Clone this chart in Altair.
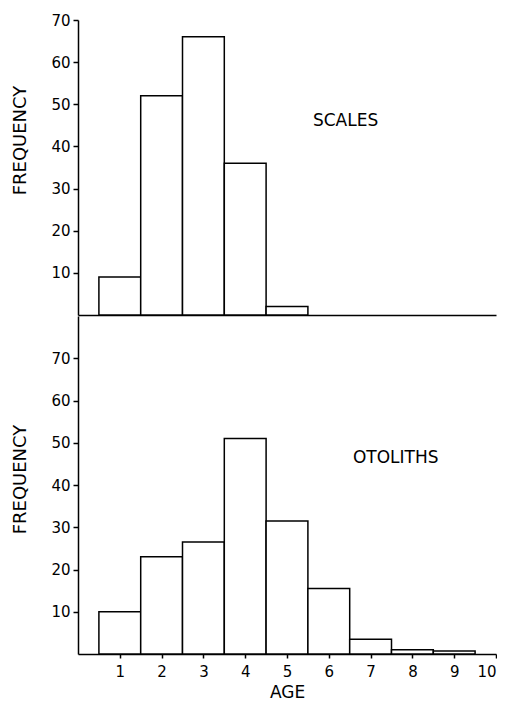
import altair as alt
import pandas as pd

ages = [1, 2, 3, 4, 5, 6, 7, 8, 9]
scales_freq = [9, 52, 66, 36, 2, 0, 0, 0, 0]
otoliths_freq = [10, 23, 26.5, 51, 31.5, 15.5, 3.5, 1, 0.7]
y_ticks = [10, 20, 30, 40, 50, 60, 70]
x_ticks = [1, 2, 3, 4, 5, 6, 7, 8, 9, 10]

FONT = "DejaVu Sans"
W = 418

def frame(vals):
    return pd.DataFrame({"x0": [a - 0.5 for a in ages], "x1": [a + 0.5 for a in ages], "f": vals})

def panel(vals, ymax, h, label, lx, ly, show_x, title_y):
    df = frame(vals)
    df = df[df["f"] > 0]
    if show_x:
        xaxis = alt.Axis(values=x_ticks, title="AGE", domainColor="black", domainWidth=1.5,
                         tickColor="black", tickWidth=1.5, tickSize=4, labelFontSize=15,
                         labelColor="black", labelFont=FONT, labelPadding=6,
                         titleFont=FONT, titleFontSize=17, titleFontWeight="normal",
                         titleColor="black", titlePadding=5, grid=False)
    else:
        xaxis = alt.Axis(values=x_ticks, labels=False, ticks=False, title=None,
                         domainColor="black", domainWidth=1.5, minExtent=0, maxExtent=0,
                         grid=False)
    yaxis = alt.Axis(values=y_ticks, title="FREQUENCY", domainColor="black", domainWidth=1.5,
                     tickColor="black", tickWidth=1.5, tickSize=5, labelFontSize=15,
                     labelColor="black", labelFont=FONT, labelPadding=3, titleFont=FONT,
                     titleFontSize=18, titleFontWeight="normal", titleColor="black",
                     titlePadding=13, titleY=title_y, minExtent=36, maxExtent=36, grid=False)
    bars = alt.Chart(df).mark_rect(fill="white", stroke="black", strokeWidth=1.5).encode(
        x=alt.X("x0:Q", scale=alt.Scale(domain=[0, 10], nice=False), axis=xaxis),
        x2="x1:Q",
        y=alt.Y("f:Q", scale=alt.Scale(domain=[0, ymax], nice=False), axis=yaxis),
        y2=alt.datum(0),
    )
    txt = alt.Chart(pd.DataFrame({"t": [label], "x": [lx], "y": [ly]})).mark_text(
        font=FONT, fontSize=17, color="black"
    ).encode(x="x:Q", y="y:Q", text="t:N")
    return alt.layer(bars, txt).properties(width=W, height=h)

top = panel(scales_freq, 70, 295, "SCALES", 6.4, 46, False, 120)
bottom = panel(otoliths_freq, 80, 338, "OTOLITHS", 7.6, 46.5, True, 163)

chart = alt.vconcat(top, bottom, spacing=0).properties(
    padding={"left": 3, "top": 5, "right": 0, "bottom": 0}
).configure(background="white").configure_view(stroke=None)

chart.save("out.html", embed_options={"renderer": "svg", "actions": False})
